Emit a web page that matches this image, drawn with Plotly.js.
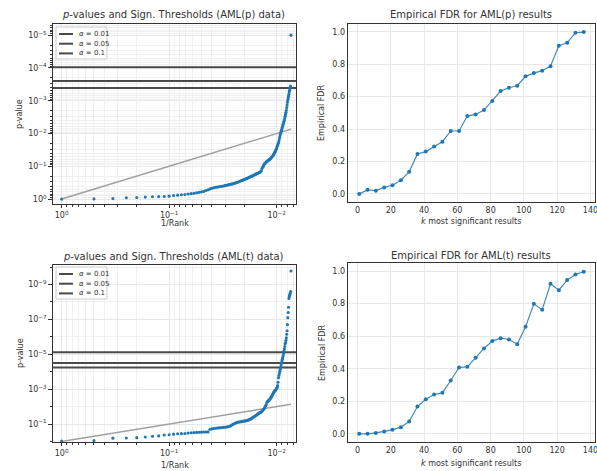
<!DOCTYPE html>
<html>
<head>
<meta charset="utf-8">
<script src="https://cdn.plot.ly/plotly-3.0.1.min.js"></script>
<style>html,body{margin:0;padding:0;background:#fff;}#chart{width:597px;height:471px;}</style>
</head>
<body>
<div id="chart"></div>
<script>
// ---------------- DATA ----------------
// log10 of sorted p-values, indexed by rank 1..136 (AML(p) data)
const logP_AMLp = [
  0, -0.005, -0.015, -0.04, -0.05, -0.06, -0.07, -0.075, -0.08, -0.09,
  -0.11, -0.12, -0.13, -0.14, -0.155, -0.165, -0.175, -0.19, -0.205, -0.22,
  -0.235, -0.26, -0.285, -0.31, -0.33, -0.345, -0.36, -0.365, -0.375, -0.385,
  -0.39, -0.40, -0.41, -0.42, -0.43, -0.44, -0.45, -0.455, -0.465, -0.475,
  -0.49, -0.50, -0.51, -0.52, -0.535, -0.55, -0.565, -0.575, -0.585, -0.60,
  -0.61, -0.62, -0.63, -0.645, -0.66, -0.67, -0.68, -0.69, -0.70, -0.715,
  -0.725, -0.735, -0.75, -0.76, -0.77, -0.78, -0.79, -0.80, -0.81, -0.82,
  -0.84, -0.86, -0.93, -0.97, -1.00, -1.04, -1.07, -1.09, -1.11, -1.13,
  -1.15, -1.16, -1.17, -1.19, -1.20, -1.21, -1.22, -1.24, -1.26, -1.28,
  -1.30, -1.32, -1.34, -1.37, -1.40, -1.43, -1.45, -1.48, -1.52, -1.56,
  -1.60, -1.64, -1.68, -1.72, -1.77, -1.84, -1.90, -1.96, -2.01, -2.06,
  -2.10, -2.14, -2.19, -2.24, -2.28, -2.33, -2.37, -2.41, -2.47, -2.53,
  -2.59, -2.65, -2.71, -2.79, -2.87, -2.95, -3.02, -3.08, -3.14, -3.20,
  -3.27, -3.32, -3.37, -3.41, -3.45, -5.00
];
// log10 of sorted p-values, indexed by rank 1..136 (AML(t) data)
const logP_AMLt = [
  -0.02, -0.05, -0.19, -0.20, -0.22, -0.26, -0.30, -0.32, -0.37, -0.39,
  -0.42, -0.44, -0.45, -0.46, -0.48, -0.50, -0.51, -0.52, -0.53, -0.535,
  -0.54, -0.545, -0.55, -0.70, -0.72, -0.74, -0.76, -0.77, -0.78, -0.79,
  -0.80, -0.81, -0.82, -0.83, -0.84, -0.86, -0.88, -0.93, -0.98, -1.00,
  -1.04, -1.07, -1.10, -1.11, -1.12, -1.13, -1.14, -1.15, -1.16, -1.17,
  -1.18, -1.19, -1.20, -1.22, -1.24, -1.26, -1.28, -1.31, -1.34, -1.37,
  -1.40, -1.43, -1.46, -1.49, -1.52, -1.55, -1.58, -1.61, -1.63, -1.66,
  -1.67, -1.70, -1.73, -1.77, -1.82, -1.86, -1.92, -1.98, -2.05, -2.12,
  -2.25, -2.28, -2.31, -2.34, -2.37, -2.41, -2.45, -2.50, -2.55, -2.60,
  -2.65, -2.70, -2.76, -2.82, -2.86, -2.90, -2.93, -2.96, -3.00, -3.05,
  -3.11, -3.20, -3.40, -3.65, -3.78, -3.90, -4.02, -4.14, -4.26, -4.38,
  -4.50, -4.62, -4.72, -4.82, -4.92, -5.05, -5.18, -5.30, -5.45, -5.60,
  -5.68, -5.80, -5.95, -6.15, -6.35, -6.70, -7.10, -7.40, -7.70, -8.20,
  -8.30, -8.38, -8.45, -8.52, -8.60, -9.78
];
const alphaLabels = ["<i>α</i> = 0.01", "<i>α</i> = 0.05", "<i>α</i> = 0.1"];
const thresholds_AMLp = [9.5e-5, 2.5e-4, 4.1e-4];
const thresholds_AMLt = [7.6e-6, 3.2e-5, 5.8e-5];

const kValues = [1, 6, 11, 16, 21, 26, 31, 36, 41, 46, 51, 56, 61, 66, 71, 76, 81, 86, 91, 96, 101, 106, 111, 116, 121, 126, 131, 136];
const fdr_AMLp = [0.0, 0.025, 0.02, 0.04, 0.053, 0.084, 0.136, 0.246, 0.261, 0.292, 0.322, 0.388, 0.388, 0.48, 0.49, 0.517, 0.573, 0.634, 0.655, 0.667, 0.725, 0.745, 0.76, 0.788, 0.914, 0.932, 0.994, 0.998];
const fdr_AMLt = [0.0, 0.0, 0.006, 0.014, 0.025, 0.041, 0.076, 0.168, 0.213, 0.242, 0.252, 0.328, 0.408, 0.412, 0.467, 0.525, 0.57, 0.588, 0.58, 0.551, 0.658, 0.799, 0.762, 0.922, 0.883, 0.945, 0.98, 0.996];

// ---------------- BUILD ----------------
const FONT = "DejaVu Sans, sans-serif";
const TXT = "#333";
const BLUE = "#1f77b4";
const THR_COLOR = '#4a4a4a';

function ranksOf(arr){ return arr.map((_, i) => i + 1); }
function pvals(arr){ return arr.map(v => Math.pow(10, v)); }

function pvalTraces(logArr, thr, xa, ya){
  const ranks = ranksOf(logArr);
  const inv = ranks.map(r => 1 / r);
  const traces = [];
  thr.forEach((t, i) => {
    traces.push({
      x: [5, 0.0005], y: [t, t], xaxis: xa, yaxis: ya, mode: 'lines',
      line: {color: THR_COLOR, width: 2}, name: alphaLabels[i], showlegend: false
    });
  });
  const last = ranks.length - 1;
  traces.push({
    x: [inv[0], inv[last]], y: [inv[0], inv[last]], xaxis: xa, yaxis: ya,
    mode: 'lines', line: {color: '#a0a0a0', width: 1.5}, showlegend: false
  });
  traces.push({
    x: inv, y: pvals(logArr), xaxis: xa, yaxis: ya, mode: 'markers',
    marker: {color: BLUE, size: 3.1}, showlegend: false
  });
  return traces;
}

function fdrTrace(y, xa, ya){
  return {
    x: kValues, y: y, xaxis: xa, yaxis: ya, mode: 'lines+markers',
    line: {color: 'rgba(31,119,180,0.85)', width: 1.2},
    marker: {color: BLUE, size: 4}, showlegend: false
  };
}

const data = [].concat(
  pvalTraces(logP_AMLp, thresholds_AMLp, 'x', 'y'),
  [fdrTrace(fdr_AMLp, 'x2', 'y2')],
  pvalTraces(logP_AMLt, thresholds_AMLt, 'x3', 'y3'),
  [fdrTrace(fdr_AMLt, 'x4', 'y4')]
);

const W = 597, H = 471;
const px = v => v / W;
const py = v => 1 - v / H;

function sup(n){ return "10<sup>" + (n < 0 ? "−" + (-n) : n) + "</sup>"; }
function minorLog(lo, hi){
  const out = [];
  for (let e = lo; e <= hi; e++) for (let m = 2; m <= 9; m++) out.push(m * Math.pow(10, e));
  return out;
}

const baseAx = {
  showline: true, mirror: true, linecolor: '#333', linewidth: 1.3,
  gridcolor: '#e8e8e8', gridwidth: 1, zeroline: false,
  tickfont: {family: FONT, size: 8, color: TXT},
  ticks: '', showgrid: true, ticklabeloverflow: 'allow'
};

const xLog = (dom, anchor) => Object.assign({}, baseAx, {
  type: 'log', domain: dom, anchor: anchor, range: [0.08, -2.18],
  tickmode: 'array', tickvals: [1, 0.1, 0.01], ticktext: [sup(0), sup(-1), sup(-2)],
  ticks: 'outside', ticklen: 3, tickcolor: '#333', tickwidth: 1,
  minor: {tickmode: 'array', tickvals: minorLog(-3, -1), ticks: 'outside', ticklen: 2,
          tickcolor: '#333', showgrid: true, gridcolor: '#f0f0f0'}
});

const layout = {
  width: W, height: H, margin: {l: 0, r: 0, t: 0, b: 0},
  paper_bgcolor: '#fff', plot_bgcolor: '#fff',
  font: {family: FONT, color: TXT},
  hovermode: false, showlegend: false,
  xaxis: xLog([px(53), px(296)], 'y'),
  yaxis: Object.assign({}, baseAx, {
    type: 'log', domain: [py(204), py(24)], anchor: 'x', range: [0.15, -5.34],
    tickmode: 'array', tickvals: [1, 1e-1, 1e-2, 1e-3, 1e-4, 1e-5],
    ticktext: [sup(0), sup(-1), sup(-2), sup(-3), sup(-4), sup(-5)],
    ticks: 'outside', ticklen: 3.5, tickcolor: '#333',
    minor: {tickmode: 'array', tickvals: minorLog(-6, -1), ticks: 'outside', ticklen: 2,
            tickcolor: '#333', showgrid: true, gridcolor: '#f0f0f0'}
  }),
  xaxis2: Object.assign({}, baseAx, {
    domain: [px(348), px(595)], anchor: 'y2', range: [-5.75, 142.75],
    tickmode: 'array', tickvals: [0, 20, 40, 60, 80, 100, 120, 140]
  }),
  yaxis2: Object.assign({}, baseAx, {
    domain: [py(202), py(24)], anchor: 'x2', range: [-0.05, 1.048],
    tickmode: 'array', tickvals: [0, 0.2, 0.4, 0.6, 0.8, 1.0], tickformat: '.1f'
  }),
  xaxis3: xLog([px(53), px(296)], 'y3'),
  yaxis3: Object.assign({}, baseAx, {
    type: 'log', domain: [py(442), py(265)], anchor: 'x3', range: [0.03, -10.12],
    tickmode: 'array', tickvals: [1e-1, 1e-3, 1e-5, 1e-7, 1e-9],
    ticktext: [sup(-1), sup(-3), sup(-5), sup(-7), sup(-9)],
    ticks: 'outside', ticklen: 3.5, tickcolor: '#333',
    minor: {tickmode: 'array', tickvals: [1, 1e-2, 1e-4, 1e-6, 1e-8, 1e-10], ticks: 'outside', ticklen: 2,
            tickcolor: '#333', showgrid: true, gridcolor: '#f0f0f0'}
  }),
  xaxis4: Object.assign({}, baseAx, {
    domain: [px(348), px(595)], anchor: 'y4', range: [-5.75, 142.75],
    tickmode: 'array', tickvals: [0, 20, 40, 60, 80, 100, 120, 140]
  }),
  yaxis4: Object.assign({}, baseAx, {
    domain: [py(442), py(263)], anchor: 'x4', range: [-0.05, 1.05],
    tickmode: 'array', tickvals: [0, 0.2, 0.4, 0.6, 0.8, 1.0], tickformat: '.1f'
  }),
  annotations: [],
  shapes: []
};

function ann(text, x, y, size, angle, anchor){
  layout.annotations.push({
    text: text, x: px(x), y: py(y), xref: 'paper', yref: 'paper',
    xanchor: anchor || 'center', yanchor: 'middle', showarrow: false,
    font: {family: FONT, size: size, color: TXT}, textangle: angle || 0
  });
}
ann("<i>p</i>-values and Sign. Thresholds (AML(p) data)", 173, 15, 10);
ann("Empirical FDR for AML(p) results", 471, 15, 10);
ann("<i>p</i>-values and Sign. Thresholds (AML(t) data)", 173, 256, 10);
ann("Empirical FDR for AML(t) results", 471, 255, 10);
ann("1/Rank", 175, 223.5, 8);
ann("1/Rank", 175, 465, 8);
ann("<i>k</i> most significant results", 471, 221.5, 8);
ann("<i>k</i> most significant results", 471, 463.5, 8);
ann("p-value", 20, 114, 8, -90);
ann("p-value", 20, 353, 8, -90);
ann("Empirical FDR", 322, 113, 8, -90);
ann("Empirical FDR", 322, 353, 8, -90);

// legend boxes (decoration) for the threshold lines
function legendBox(top){
  layout.shapes.push({
    type: 'rect', xref: 'paper', yref: 'paper',
    x0: px(56), x1: px(107), y0: py(top + 32), y1: py(top),
    line: {color: '#cccccc', width: 1}, fillcolor: 'rgba(255,255,255,0.9)', layer: 'above'
  });
  alphaLabels.forEach((lab, i) => {
    const yy = top + 7 + i * 9.7;
    layout.shapes.push({
      type: 'line', xref: 'paper', yref: 'paper',
      x0: px(59), x1: px(73), y0: py(yy), y1: py(yy),
      line: {color: THR_COLOR, width: 2}, layer: 'above'
    });
    ann(lab, 77, yy, 7, 0, 'left');
  });
}
legendBox(27);
legendBox(267);

Plotly.newPlot('chart', data, layout, {staticPlot: true, displayModeBar: false});
</script>
</body>
</html>
